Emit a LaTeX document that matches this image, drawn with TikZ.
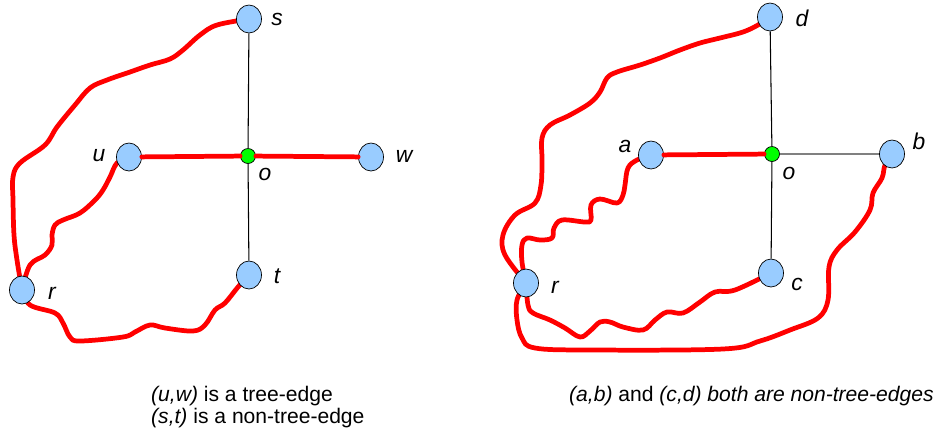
\documentclass[tikz,border=0pt]{standalone}
\usepackage{fontspec}
\setmainfont{Liberation Sans}
\usetikzlibrary{shapes.geometric,backgrounds}
\definecolor{vblue}{RGB}{153,204,255}
\definecolor{vgreen}{RGB}{0,255,0}
\definecolor{vred}{RGB}{255,0,0}

\begin{document}
\begin{tikzpicture}[x=0.02cm, y=-0.02cm,
    vertex/.style={draw, ellipse, fill=vblue, minimum width=0.5cm, minimum height=0.56cm, inner sep=0pt},
    root/.style={draw, circle, fill=vgreen, minimum size=0.3cm, inner sep=0pt},
    lbl/.style={font=\fontsize{13}{15}\selectfont\itshape},
    caption/.style={font=\fontsize{12}{12.5}\selectfont, align=left, anchor=west},
    redline/.style={draw=vred, line width=2.7pt, line cap=round, line join=round},
    thin/.style={line width=0.6pt}]

    \useasboundingbox (0,0) rectangle (940,437);

    % Nodos, primer grafo
    \node[vertex] (s) at (249,19) {};
    \node[root]   (o) at (248,156) {};
    \node[vertex] (u) at (129,157) {};
    \node[vertex] (w) at (371,157) {};
    \node[vertex] (t) at (249,275) {};
    \node[vertex] (r) at (22,290) {};

    \node[lbl] (ls) at (277,19) {s};
    \node[lbl] (lu) at (99,156) {u};
    \node[lbl] (lw) at (404,156) {w};
    \node[lbl] (lo) at (265,174) {o};
    \node[lbl] (lt) at (277,276) {t};
    \node[lbl] (lr) at (52,293) {r};

    % Nodos, segundo grafo
    \node[vertex] (d)  at (770,17) {};
    \node[root]   (o2) at (772,154) {};
    \node[vertex] (a)  at (651,155) {};
    \node[vertex] (b)  at (892,154) {};
    \node[vertex] (c)  at (771,273) {};
    \node[vertex] (r2) at (526,283) {};

    \node[lbl] (ld)  at (802,18) {d};
    \node[lbl] (la)  at (625,146) {a};
    \node[lbl] (lb)  at (919,141) {b};
    \node[lbl] (lo2) at (789,173) {o};
    \node[lbl] (lc)  at (797,284) {c};
    \node[lbl] (lr2) at (555,287) {r};

    % Conexiones
    \draw[thin] (s) -- (o);
    \draw[thin] (o) -- (t);
    \draw[redline] (u) -- (o);
    \draw[redline] (o) -- (w);

    \draw[thin] (d) -- (o2);
    \draw[thin] (o2) -- (c);
    \draw[thin, gray] (o2) -- (b);
    \draw[redline] (a) -- (o2);

    % Caminos
    \begin{scope}[on background layer]
    \draw[redline] plot[smooth, tension=0.6] coordinates {(s) (217,25) (200,35) (183,50) (170,59)
        (150,65) (130,72) (107,80) (90,88) (75,105) (57,127) (45,145) (20,163) (13,177) (13,200)
        (14,235) (17,260) (r)};
    \draw[redline] plot[smooth, tension=0.6] coordinates {(u) (117,163) (110,177) (103,190)
        (95,200) (80,213) (63,220) (55,225) (52,235) (52,245) (45,255) (30,265) (r)};
    \draw[redline] plot[smooth, tension=0.6] coordinates {(r) (30,305) (55,313) (63,323)
        (70,337) (80,341) (123,337) (135,332) (150,325) (165,328) (193,331) (205,325) (215,310)
        (225,303) (238,287) (t)};

    \draw[redline] plot[smooth, tension=0.6] coordinates {(d) (758,25) (743,32) (720,38) (700,43)
        (680,50) (660,58) (640,65) (617,72) (607,78) (600,92) (590,103) (570,115) (550,125)
        (542,138) (542,160) (541,185) (535,203) (515,215) (503,235) (505,255) (r2)};
    \draw[redline] plot[smooth, tension=0.6] coordinates {(a) (637,160) (628,168) (625,185)
        (623,195) (617,203) (600,199) (591,205) (591,220) (585,222) (562,220) (554,228) (552,238)
        (540,240) (527,238) (522,245) (522,262) (r2)};
    \draw[redline] plot[smooth, tension=0.6] coordinates {(r2) (528,305) (533,313) (550,320)
        (565,328) (580,337) (590,331) (600,322) (610,322) (623,327) (643,330) (655,320) (667,312)
        (683,313) (700,302) (715,292) (735,290) (c)};
    \draw[redline] plot[smooth, tension=0.6] coordinates {(r2) (517,300) (517,320) (522,338)
        (535,348) (590,350) (723,349) (760,341) (790,330) (818,318) (828,300) (829,267) (837,250)
        (855,232) (870,210) (873,193) (882,178) (885,165) (b)};
    \end{scope}

    % Textos
    \node[caption] (cap1) at (145,407) {\textit{(u,w)} is a tree-edge\\\textit{(s,t)} is a non-tree-edge};
    \node[caption] (cap2) at (563,396) {\textit{(a,b)} and \textit{(c,d) both are non-tree-edges}};

\end{tikzpicture}
\end{document}
